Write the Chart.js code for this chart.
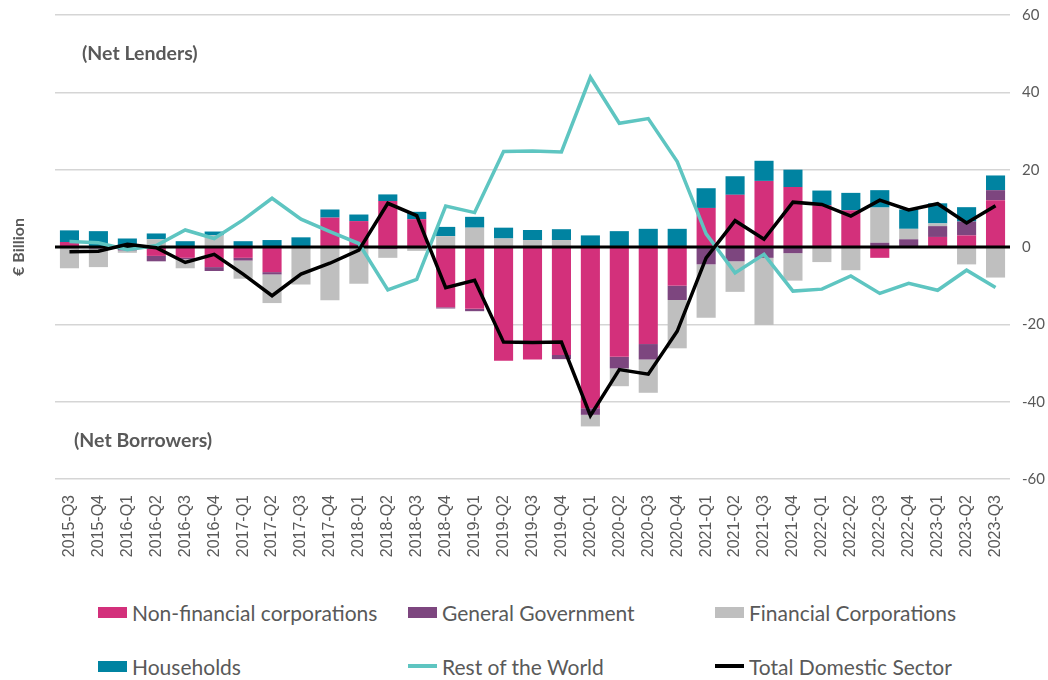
<!DOCTYPE html>
<html>
<head>
<meta charset="utf-8">
<script src="https://cdn.jsdelivr.net/npm/chart.js@4.4.1/dist/chart.umd.min.js"></script>
<style>
    body { margin: 0; background: #fff; font-family: "Lato", sans-serif; }
    #wrap { position: relative; width: 1048px; height: 680px; }
    #chartBox { position: absolute; left: 0; top: 0; width: 1048px; height: 560px; }
    #legend {
        position: absolute; left: 98px; top: 600px;
        display: grid; grid-template-columns: 310px 307px 300px;
        row-gap: 30px; color: #595959; font-size: 21px;
    }
    .item { display: flex; align-items: center; height: 24px; white-space: nowrap; }
    .swatch { width: 29px; height: 11px; margin-right: 5px; }
    .swatch.line { height: 4px; }
</style>
</head>
<body>
<div id="wrap">
    <div id="chartBox"><canvas id="sectorChart"></canvas></div>
    <div id="legend"></div>
</div>
<script>
const quarters = [
    "2015-Q3", "2015-Q4", "2016-Q1", "2016-Q2", "2016-Q3", "2016-Q4",
    "2017-Q1", "2017-Q2", "2017-Q3", "2017-Q4", "2018-Q1", "2018-Q2",
    "2018-Q3", "2018-Q4", "2019-Q1", "2019-Q2", "2019-Q3", "2019-Q4",
    "2020-Q1", "2020-Q2", "2020-Q3", "2020-Q4", "2021-Q1", "2021-Q2",
    "2021-Q3", "2021-Q4", "2022-Q1", "2022-Q2", "2022-Q3", "2022-Q4",
    "2023-Q1", "2023-Q2", "2023-Q3"
];

// € billion
const nonFinancial = [1.3, 0.2, 0.2, -2.3, -2.8, -5.2, -2.8, -6.5, 0, 7.6, 6.7, 11.9,
    7.2, -15.6, -16.0, -29.4, -29.1, -27.9, -41.7, -28.4, -25.1, -10.0, 10.1, 13.5,
    17.1, 15.5, 10.8, 9.5, -2.8, 0, 2.6, 3.0, 12.1];
const generalGov = [-0.3, -0.4, -0.9, -1.4, -0.4, -1.0, -0.7, -0.6, 0, 0, 0, -0.5,
    -0.3, -0.3, -0.6, 0, 0, -1.1, -1.7, -3.0, -4.0, -3.7, -4.5, -3.7,
    -2.8, -1.6, 0, 0, 1.1, 2.0, 2.8, 3.6, 2.6];
const financialCorp = [-5.2, -4.8, -0.6, 2.0, -2.3, 3.0, -4.7, -7.4, -9.7, -13.8, -9.5, -2.3,
    -0.7, 2.8, 5.0, 2.2, 1.8, 1.8, -3.0, -4.6, -8.6, -12.5, -13.8, -7.9,
    -17.4, -7.1, -3.9, -6.0, 9.1, 2.7, 0.7, -4.5, -7.9];
const households = [3.0, 3.9, 2.0, 1.5, 1.5, 1.0, 1.5, 1.8, 2.5, 2.1, 1.7, 1.7,
    1.9, 2.4, 2.8, 2.8, 2.6, 2.8, 3.0, 4.1, 4.7, 4.7, 5.1, 4.8,
    5.2, 4.5, 3.8, 4.5, 4.5, 5.0, 5.2, 3.7, 3.8];
const restOfWorld = [1.4, 1.1, -0.7, 0.4, 4.4, 2.2, 7.0, 12.6, 7.2, 4.0, 0.9, -11.1,
    -8.4, 10.6, 8.9, 24.7, 24.8, 24.6, 43.9, 32.0, 33.2, 22.1, 3.4, -6.7,
    -1.9, -11.4, -10.9, -7.5, -12.0, -9.4, -11.2, -6.0, -10.5];
const totalDomestic = [-1.2, -1.1, 0.7, -0.2, -4.0, -1.9, -7.0, -12.6, -7.0, -4.2, -0.8, 11.3,
    8.1, -10.5, -8.6, -24.6, -24.7, -24.6, -43.6, -31.7, -32.9, -21.8, -2.8, 6.8,
    2.0, 11.6, 11.0, 8.0, 12.1, 9.6, 11.2, 6.2, 10.7];

const yTicks = [-60, -40, -20, 0, 20, 40, 60];

const textGrey = "#595959";
Chart.defaults.font.family = "Lato";
Chart.defaults.color = textGrey;

// zero line goes over the bars, under the two lines; labels for lenders / borrowers
const chartExtras = {
    id: "chartExtras",
    beforeDatasetDraw(chart, args) {
        if (args.index !== 4) return;
        const { ctx, chartArea } = chart;
        const y0 = chart.scales.y.getPixelForValue(0);
        ctx.save();
        ctx.strokeStyle = "#000";
        ctx.lineWidth = 3;
        ctx.beginPath();
        ctx.moveTo(chartArea.left, y0);
        ctx.lineTo(chartArea.right, y0);
        ctx.stroke();
        ctx.restore();
    },
    afterDraw(chart) {
        const { ctx, chartArea } = chart;
        const y = chart.scales.y;
        ctx.save();
        ctx.fillStyle = textGrey;
        ctx.font = "bold 19.5px Lato";
        ctx.textAlign = "left";
        ctx.textBaseline = "middle";
        ctx.fillText("(Net Lenders)", chartArea.left + 27, y.getPixelForValue(50));
        ctx.fillText("(Net Borrowers)", chartArea.left + 19, y.getPixelForValue(-50));
        ctx.restore();
    }
};

const barSet = (label, data, color) => ({
    type: "bar",
    label: label,
    data: data,
    backgroundColor: color,
    borderWidth: 0,
    stack: "sectors",
    order: 2,
    categoryPercentage: 1,
    barPercentage: 0.66
});

const lineSet = (label, data, color, order) => ({
    type: "line",
    label: label,
    data: data,
    borderColor: color,
    backgroundColor: color,
    borderWidth: 3.5,
    pointRadius: 0,
    tension: 0,
    fill: false,
    order: order
});

const ctx = document.getElementById("sectorChart").getContext("2d");
const sectorChart = new Chart(ctx, {
    data: {
        labels: quarters,
        datasets: [
            barSet("Non-financial corporations", nonFinancial, "#D3307B"),
            barSet("General Government", generalGov, "#7D467F"),
            barSet("Financial Corporations", financialCorp, "#BFBFBF"),
            barSet("Households", households, "#0083A1"),
            lineSet("Rest of the World", restOfWorld, "#5EC5C1", 1),
            lineSet("Total Domestic Sector", totalDomestic, "#000000", 0)
        ]
    },
    options: {
        responsive: true,
        maintainAspectRatio: false,
        animation: false,
        layout: { padding: { top: 15, left: 0, right: 0, bottom: 0 } },
        plugins: {
            legend: { display: false },
            tooltip: { enabled: false }
        },
        scales: {
            x: {
                stacked: true,
                grid: { display: false },
                border: { display: false },
                ticks: {
                    autoSkip: false,
                    minRotation: 90,
                    maxRotation: 90,
                    padding: 8,
                    color: textGrey,
                    font: { family: "Liberation Sans", size: 16 }
                },
                afterFit: (scale) => { scale.height = 81; }
            },
            y: {
                stacked: true,
                position: "right",
                min: -60,
                max: 60,
                afterBuildTicks: (scale) => { scale.ticks = yTicks.map(v => ({ value: v })); },
                grid: {
                    drawTicks: false,
                    lineWidth: 1.5,
                    color: (c) => c.tick && c.tick.value === 0 ? "rgba(0,0,0,0)" : "#D5D5D5"
                },
                border: { display: false },
                ticks: { padding: 12, color: textGrey, font: { size: 15 } },
                afterFit: (scale) => {
                    // tick padding would otherwise push the plot down
                    scale.width = 38;
                    scale.paddingTop = 0;
                    scale.paddingBottom = 0;
                }
            },
            yTitle: {
                type: "linear",
                position: "left",
                min: -60,
                max: 60,
                grid: { display: false },
                border: { display: false },
                ticks: { display: false },
                title: {
                    display: true,
                    text: "€ Billion",
                    color: textGrey,
                    padding: { top: 9, bottom: 0 },
                    font: { size: 16, weight: "bold" }
                },
                afterFit: (scale) => { scale.width = 55; }
            }
        }
    },
    plugins: [chartExtras]
});

// legend drawn as html so it can sit in three fixed columns
const legendBox = document.getElementById("legend");
sectorChart.data.datasets.forEach(ds => {
    const item = document.createElement("div");
    item.className = "item";
    const swatch = document.createElement("span");
    swatch.className = ds.type === "line" ? "swatch line" : "swatch";
    swatch.style.background = ds.type === "line" ? ds.borderColor : ds.backgroundColor;
    item.appendChild(swatch);
    item.appendChild(document.createTextNode(ds.label));
    legendBox.appendChild(item);
});
</script>
</body>
</html>
